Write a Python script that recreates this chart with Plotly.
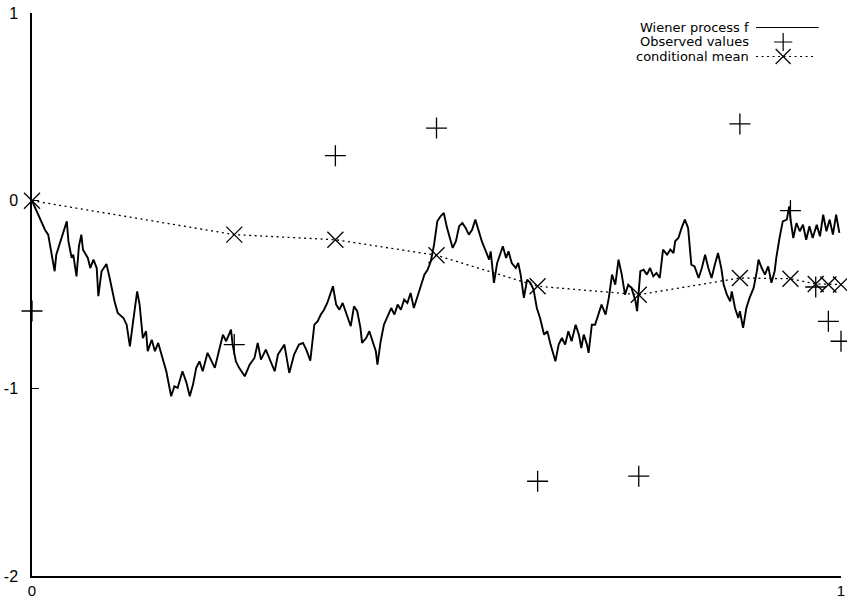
import plotly.graph_objects as go

# Sample path of the Wiener process f on [0, 1]
path_t = [0.000, 0.016, 0.020, 0.028, 0.030, 0.037, 0.039, 0.043, 0.045, 0.049,
          0.051, 0.055, 0.058, 0.061, 0.063, 0.069, 0.072, 0.076, 0.080, 0.082,
          0.086, 0.092, 0.096, 0.102, 0.106, 0.113, 0.117, 0.121, 0.125, 0.130,
          0.133, 0.137, 0.141, 0.143, 0.148, 0.152, 0.156, 0.160, 0.166, 0.172,
          0.176, 0.180, 0.186, 0.191, 0.195, 0.199, 0.203, 0.207, 0.211, 0.217,
          0.222, 0.226, 0.230, 0.236, 0.240, 0.246, 0.248, 0.252, 0.256, 0.263,
          0.269, 0.275, 0.279, 0.283, 0.289, 0.293, 0.300, 0.304, 0.312, 0.318,
          0.324, 0.330, 0.335, 0.339, 0.344, 0.349, 0.353, 0.357, 0.361, 0.365,
          0.372, 0.376, 0.380, 0.384, 0.390, 0.394, 0.398, 0.402, 0.406, 0.408,
          0.413, 0.417, 0.421, 0.425, 0.427, 0.431, 0.435, 0.439, 0.444, 0.448,
          0.452, 0.456, 0.460, 0.464, 0.468, 0.472, 0.476, 0.480, 0.485, 0.489,
          0.493, 0.497, 0.501, 0.505, 0.509, 0.513, 0.518, 0.520, 0.524, 0.528,
          0.532, 0.536, 0.540, 0.544, 0.548, 0.552, 0.556, 0.561, 0.565, 0.567,
          0.571, 0.575, 0.579, 0.582, 0.586, 0.589, 0.593, 0.598, 0.601, 0.604,
          0.608, 0.612, 0.616, 0.620, 0.624, 0.628, 0.633, 0.637, 0.641, 0.647,
          0.651, 0.655, 0.659, 0.663, 0.667, 0.672, 0.676, 0.679, 0.682, 0.686,
          0.688, 0.692, 0.696, 0.700, 0.704, 0.709, 0.713, 0.717, 0.721, 0.725,
          0.729, 0.733, 0.737, 0.741, 0.746, 0.748, 0.752, 0.756, 0.760, 0.764,
          0.768, 0.772, 0.776, 0.780, 0.785, 0.789, 0.793, 0.795, 0.799, 0.803,
          0.807, 0.811, 0.815, 0.819, 0.824, 0.828, 0.832, 0.836, 0.840, 0.844,
          0.848, 0.852, 0.855, 0.859, 0.863, 0.865, 0.869, 0.873, 0.875, 0.879,
          0.883, 0.887, 0.892, 0.896, 0.898, 0.902, 0.906, 0.910, 0.914, 0.918,
          0.920, 0.924, 0.928, 0.933, 0.936, 0.938, 0.941, 0.945, 0.949, 0.953,
          0.957, 0.961, 0.965, 0.970, 0.974, 0.978, 0.982, 0.986, 0.990, 0.994,
          0.998]
path_f = [0.000, -0.155, -0.181, -0.376, -0.288, -0.190, -0.163, -0.110, -0.216, -0.305,
          -0.288, -0.403, -0.243, -0.181, -0.261, -0.305, -0.359, -0.314, -0.359, -0.509,
          -0.376, -0.337, -0.412, -0.536, -0.598, -0.625, -0.661, -0.776, -0.643, -0.483,
          -0.554, -0.732, -0.696, -0.802, -0.741, -0.802, -0.758, -0.820, -0.909, -1.042,
          -0.989, -0.998, -0.909, -0.971, -1.042, -0.980, -0.891, -0.856, -0.909, -0.811,
          -0.856, -0.891, -0.820, -0.714, -0.749, -0.687, -0.767, -0.856, -0.891, -0.936,
          -0.874, -0.838, -0.758, -0.847, -0.794, -0.838, -0.909, -0.820, -0.767, -0.918,
          -0.820, -0.767, -0.758, -0.794, -0.852, -0.661, -0.643, -0.607, -0.581, -0.545,
          -0.456, -0.554, -0.581, -0.545, -0.625, -0.669, -0.563, -0.589, -0.678, -0.758,
          -0.732, -0.696, -0.749, -0.802, -0.874, -0.749, -0.661, -0.625, -0.572, -0.607,
          -0.554, -0.581, -0.527, -0.545, -0.492, -0.572, -0.518, -0.465, -0.394, -0.368,
          -0.323, -0.234, -0.110, -0.083, -0.066, -0.145, -0.216, -0.252, -0.216, -0.136,
          -0.119, -0.145, -0.181, -0.155, -0.101, -0.163, -0.216, -0.270, -0.314, -0.270,
          -0.438, -0.332, -0.279, -0.243, -0.305, -0.270, -0.332, -0.359, -0.332, -0.394,
          -0.518, -0.421, -0.438, -0.474, -0.572, -0.625, -0.714, -0.696, -0.767, -0.856,
          -0.767, -0.732, -0.767, -0.696, -0.749, -0.661, -0.714, -0.785, -0.714, -0.767,
          -0.811, -0.661, -0.661, -0.607, -0.554, -0.607, -0.518, -0.394, -0.448, -0.314,
          -0.394, -0.501, -0.448, -0.465, -0.536, -0.589, -0.376, -0.368, -0.394, -0.359,
          -0.403, -0.385, -0.412, -0.261, -0.288, -0.261, -0.279, -0.216, -0.199, -0.145,
          -0.101, -0.145, -0.341, -0.350, -0.412, -0.359, -0.288, -0.359, -0.412, -0.341,
          -0.279, -0.359, -0.448, -0.501, -0.536, -0.483, -0.572, -0.625, -0.589, -0.678,
          -0.572, -0.518, -0.465, -0.376, -0.314, -0.359, -0.394, -0.350, -0.438, -0.376,
          -0.305, -0.199, -0.110, -0.101, -0.030, -0.110, -0.199, -0.119, -0.163, -0.128,
          -0.208, -0.136, -0.199, -0.128, -0.190, -0.075, -0.163, -0.101, -0.181, -0.075,
          -0.172]

# Noisy observations of f
obs_t = [0.0, 0.25, 0.375, 0.5, 0.625, 0.75, 0.875, 0.9375, 0.96875, 0.984375, 1.0]
obs_v = [-0.588, -0.767, 0.240, 0.387, -1.495, -1.468, 0.409, -0.053, -0.460, -0.643, -0.749]

# Conditional mean of f given the observations, at the observation times
mean_v = [0.000, -0.181, -0.208, -0.291, -0.456, -0.501, -0.412, -0.416, -0.444, -0.447, -0.447]

x_ticks = [0, 1]
x_tick_text = ["0", "1"]
y_ticks = [-2, -1, 0, 1]
y_tick_text = ["-2", "-1", "0", "1"]

legend_labels = ["Wiener process f", "Observed values", "conditional mean"]

INK = "black"
DOTTED = "2px,3.5px"

fig = go.Figure()

fig.add_trace(go.Scatter(
    x=path_t, y=path_f, mode="lines",
    line=dict(color=INK, width=1.9),
    hoverinfo="skip",
))
fig.add_trace(go.Scatter(
    x=obs_t, y=mean_v, mode="lines+markers",
    line=dict(color=INK, width=1.3, dash=DOTTED),
    marker=dict(symbol="x-thin", size=16, line=dict(color=INK, width=1.3)),
    cliponaxis=False, hoverinfo="skip",
))
fig.add_trace(go.Scatter(
    x=obs_t, y=obs_v, mode="markers",
    marker=dict(symbol="cross-thin", size=15, line=dict(color=INK, width=1.3)),
    cliponaxis=False, hoverinfo="skip",
))

# Key in the upper right corner: labels on the left, samples on the right
key_rows = [0.9742, 0.9485, 0.9227]
key_x0, key_x1, key_mid = 0.895, 0.9725, 0.9285
key_text_x = 0.8878

fig.add_trace(go.Scatter(
    x=[key_x0, key_x1], y=[key_rows[0]] * 2, mode="lines",
    line=dict(color=INK, width=1.0), xaxis="x2", yaxis="y2",
    cliponaxis=False, hoverinfo="skip",
))
fig.add_trace(go.Scatter(
    x=[key_mid], y=[key_rows[1]], mode="markers",
    marker=dict(symbol="cross-thin", size=13, line=dict(color=INK, width=1.2)),
    xaxis="x2", yaxis="y2", cliponaxis=False, hoverinfo="skip",
))
fig.add_trace(go.Scatter(
    x=[key_x0, key_x1 - 0.005], y=[key_rows[2]] * 2, mode="lines",
    line=dict(color=INK, width=1.2, dash=DOTTED), xaxis="x2", yaxis="y2",
    cliponaxis=False, hoverinfo="skip",
))
fig.add_trace(go.Scatter(
    x=[key_mid], y=[key_rows[2]], mode="markers",
    marker=dict(symbol="x-thin", size=15, line=dict(color=INK, width=1.2)),
    xaxis="x2", yaxis="y2", cliponaxis=False, hoverinfo="skip",
))

for label, row in zip(legend_labels, key_rows):
    fig.add_annotation(
        x=key_text_x, y=row, xref="paper", yref="paper",
        text=label, showarrow=False, xanchor="right", yanchor="middle",
        borderpad=0,
        font=dict(family="DejaVu Sans", size=13, color=INK),
    )

axis_common = dict(
    showline=True, linecolor=INK, linewidth=1.5,
    ticks="inside", ticklen=7, tickwidth=1.3, tickcolor=INK,
    showgrid=False, zeroline=False, mirror=False,
    automargin=False, ticklabeloverflow="allow",
)

fig.update_layout(
    width=847, height=603,
    margin=dict(l=32, r=6, t=13, b=27, autoexpand=False),
    paper_bgcolor="white", plot_bgcolor="white",
    showlegend=False,
    xaxis=dict(range=[0, 1], tickvals=x_ticks, ticktext=x_tick_text,
               ticklabelstandoff=0,
               tickfont=dict(family="Liberation Sans", size=15, color=INK),
               **axis_common),
    yaxis=dict(range=[-2, 1], tickvals=y_ticks, ticktext=y_tick_text,
               ticklabelstandoff=9,
               tickfont=dict(family="Liberation Sans", size=16, color=INK),
               **axis_common),
    xaxis2=dict(range=[0, 1], overlaying="x", visible=False, anchor="y2"),
    yaxis2=dict(range=[0, 1], overlaying="y", visible=False, anchor="x2"),
)

fig.write_html("out.html", config={"displayModeBar": False})
